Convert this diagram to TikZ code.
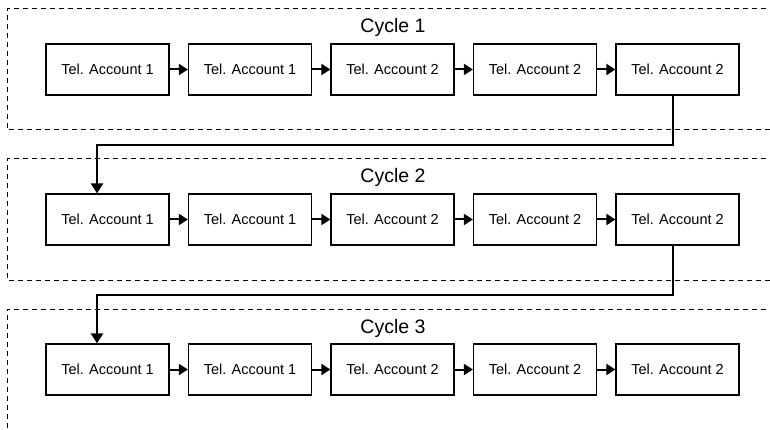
\documentclass[tikz,border=0pt]{standalone}
\usepackage{fontspec}
\setmainfont{Liberation Sans}
\usetikzlibrary{arrows.meta}
\begin{document}
\begin{tikzpicture}[x=1pt,y=-1pt,
  acct/.style={draw, line width=1.2pt, minimum width=123pt, minimum height=51pt, inner sep=0pt, font=\fontsize{14.5}{16}\selectfont},
  cyc/.style={draw, dashed, dash pattern=on 5pt off 4pt, line width=1pt},
  cyclbl/.style={font=\fontsize{19.5}{22}\selectfont, anchor=base},
  flow/.style={line width=2pt, -{Triangle[length=9pt,width=11pt]}},
  link/.style={line width=2.2pt, -{Triangle[length=10pt,width=12pt]}}]
\useasboundingbox (0,0) rectangle (770,430);
% dashed cycle frames (extend past right/bottom edges)
\draw[cyc] (775,9) -- (7,9) -- (7,130) -- (775,130);
\draw[cyc] (775,159) -- (7,159) -- (7,280) -- (775,280);
\draw[cyc] (775,309) -- (7,309) -- (7,440);
\node[cyclbl] (c1) at (393,33) {Cycle 1};
\node[cyclbl] (c2) at (393,183) {Cycle 2};
\node[cyclbl] (c3) at (393,333) {Cycle 3};
\foreach \r/\y in {1/69.5, 2/219.5, 3/369.5}{
  \node[acct] (a\r1) at (107.5,\y) {Tel. Account 1};
  \node[acct] (a\r2) at (250,\y) {Tel. Account 1};
  \node[acct] (a\r3) at (392.5,\y) {Tel. Account 2};
  \node[acct] (a\r4) at (535,\y) {Tel. Account 2};
  \node[acct] (a\r5) at (677.5,\y) {Tel. Account 2};
  \draw[flow] (a\r1) -- (a\r2);
  \draw[flow] (a\r2) -- (a\r3);
  \draw[flow] (a\r3) -- (a\r4);
  \draw[flow] (a\r4) -- (a\r5);
}
\coordinate (b1) at (673,145);
\coordinate (b2) at (97,145);
\coordinate (d1) at (673,295);
\coordinate (d2) at (97,295);
\draw[link] (a15.south -| b1) -- (b1) -- (b2) -- (b2 |- a21.north);
\draw[link] (a25.south -| d1) -- (d1) -- (d2) -- (d2 |- a31.north);
\end{tikzpicture}
\end{document}
